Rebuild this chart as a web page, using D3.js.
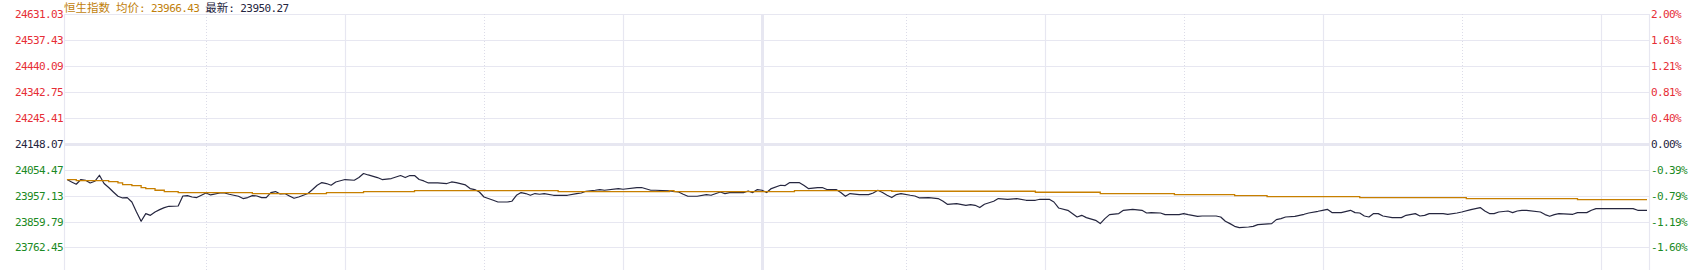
<!DOCTYPE html>
<html><head><meta charset="utf-8">
<script src="https://cdn.jsdelivr.net/npm/d3@7"></script>
<style>
html,body{margin:0;padding:0;background:#fff;}
svg{display:block;}
</style></head><body>
<svg id="chart" width="1694" height="270"></svg>
<script>
// ---------- data ----------
const indexName = "恒生指数";
const avgLabel = "均价";
const lastLabel = "最新";
const avgShown = "23966.43";
const lastShown = "23950.27";
const baseClose = 24148.07;
const pctLevels = [2, 1.6, 1.2, 0.8, 0.4, 0, -0.4, -0.8, -1.2, -1.6, -2];
const leftLabels = ["24631.03","24537.43","24440.09","24342.75","24245.41","24148.07","24054.47","23957.13","23859.79","23762.45"];
const rightLabels = ["2.00%","1.61%","1.21%","0.81%","0.40%","0.00%","-0.39%","-0.79%","-1.19%","-1.60%"];
const gridTimes = ["10:00","10:30","11:00","11:30","12:00","13:30","14:00","14:30","15:00","15:30","16:00"];
const sessionEnd = "16:10";
// [minute index, price]
const priceSeries = [[0,24014.6],[1,24005.6],[2,23997.1],[3,24014.6],[4,24012.0],[5,24001.9],[6,24008.2],[7,24030.6],[8,23999.7],[9,23984.8],[10,23968.3],[11,23952.3],[12,23946.0],[13,23947.5],[14,23931.0],[15,23893.8],[16,23859.1],[17,23887.8],[18,23881.4],[19,23893.8],[20,23902.7],[21,23910.2],[22,23915.0],[24,23916.1],[25,23953.4],[26,23954.9],[27,23949.7],[28,23947.5],[29,23956.0],[30,23964.6],[31,23957.2],[33,23964.6],[34,23964.6],[35,23959.8],[37,23952.3],[38,23943.7],[39,23947.5],[40,23954.9],[41,23953.4],[42,23947.5],[43,23947.5],[44,23966.1],[45,23969.8],[46,23960.9],[47,23962.4],[48,23953.4],[49,23944.8],[50,23949.7],[51,23956.0],[52,23962.4],[53,23977.3],[54,23993.3],[55,24003.4],[56,23999.7],[57,23993.3],[58,24005.6],[60,24014.6],[62,24012.0],[63,24022.0],[64,24037.0],[65,24031.7],[67,24022.0],[68,24014.6],[70,24018.3],[72,24029.5],[73,24022.0],[74,24029.5],[75,24029.5],[76,24014.6],[77,24009.4],[78,24001.9],[80,24001.9],[82,23999.7],[83,24005.6],[84,24003.4],[86,23994.5],[87,23981.0],[88,23977.3],[89,23968.3],[90,23949.7],[92,23937.4],[93,23931.0],[95,23931.0],[96,23933.7],[97,23956.0],[98,23966.1],[99,23962.4],[100,23956.0],[101,23962.4],[102,23959.8],[103,23962.4],[105,23956.0],[108,23956.0],[110,23962.4],[111,23964.6],[112,23971.0],[114,23974.7],[115,23977.3],[116,23974.7],[119,23981.0],[120,23978.4],[123,23984.8],[124,23984.8],[126,23974.7],[127,23974.7],[130,23972.1],[132,23968.3],[133,23959.8],[134,23952.3],[136,23952.3],[138,23958.6],[139,23956.0],[141,23968.3],[142,23962.4],[143,23966.1],[146,23966.1],[147,23972.1],[148,23966.1],[149,23977.3],[150,23974.7],[151,23966.1],[152,23981.0],[154,23993.3],[155,23992.2],[156,24003.4],[158,24003.4],[159,23993.3],[160,23981.0],[162,23984.8],[163,23984.8],[164,23977.3],[166,23977.3],[167,23966.1],[168,23952.3],[169,23962.4],[171,23958.6],[173,23958.6],[174,23964.6],[175,23974.7],[176,23966.1],[177,23956.0],[178,23947.5],[179,23958.6],[180,23962.4],[182,23956.0],[183,23953.4],[184,23946.0],[186,23947.5],[188,23943.7],[189,23934.8],[190,23922.5],[192,23925.1],[194,23918.7],[195,23921.4],[196,23918.7],[197,23910.2],[198,23922.5],[200,23933.7],[201,23943.7],[203,23941.1],[205,23943.7],[207,23937.4],[209,23937.4],[210,23941.1],[212,23941.1],[213,23931.0],[214,23908.7],[216,23900.1],[218,23875.1],[219,23881.4],[220,23872.9],[222,23862.8],[223,23850.5],[224,23869.1],[225,23884.1],[227,23887.8],[228,23900.1],[230,23903.8],[232,23900.1],[233,23890.0],[234,23891.5],[236,23890.0],[237,23884.1],[240,23884.1],[241,23887.8],[242,23884.1],[244,23877.7],[245,23878.8],[248,23878.8],[249,23875.1],[250,23859.1],[251,23850.5],[252,23840.4],[253,23835.6],[255,23837.8],[256,23840.4],[257,23846.8],[260,23850.5],[261,23865.4],[262,23869.1],[263,23875.1],[265,23877.7],[267,23885.2],[268,23890.0],[270,23896.4],[271,23900.1],[272,23903.8],[273,23891.5],[275,23891.5],[277,23900.1],[278,23891.5],[279,23890.0],[280,23878.8],[281,23875.1],[282,23887.8],[283,23887.8],[284,23878.8],[286,23872.9],[288,23872.9],[289,23881.4],[291,23887.8],[292,23878.8],[293,23881.4],[294,23887.8],[297,23887.8],[298,23885.2],[300,23890.0],[301,23893.8],[303,23902.7],[305,23910.2],[306,23897.5],[307,23887.8],[308,23887.8],[309,23893.8],[311,23897.5],[312,23891.5],[313,23897.5],[314,23900.1],[315,23900.1],[318,23893.8],[319,23884.1],[320,23877.7],[321,23884.1],[322,23887.8],[325,23885.2],[326,23891.5],[328,23891.5],[329,23900.1],[330,23906.4],[338,23906.4],[339,23900.1],[341,23900.1]];
// [minute index, average price] (value holds until next entry)
const avgSeries = [[0,24014.6],[2,24010.9],[9,24007.1],[11,24001.9],[12,23995.9],[14,23992.2],[16,23984.8],[17,23981.0],[19,23974.7],[21,23969.8],[24,23966.1],[40,23962.4],[56,23966.1],[64,23969.8],[75,23973.6],[106,23969.8],[130,23973.6],[131,23969.8],[157,23973.6],[178,23971.0],[209,23967.2],[223,23962.4],[239,23958.6],[252,23954.9],[259,23951.2],[279,23947.5],[302,23943.7],[326,23940.0],[341,23940.0]];

// ---------- helpers ----------
function timeToIndex(t){
  const [h,m] = t.split(":").map(Number);
  const mins = h*60+m;
  if (mins <= 720) return mins - 570;        // 9:30 .. 12:00
  return mins - 780 + 151;                    // 13:00 ..
}

// ---------- colours & fonts ----------
const RED = "#e62e36", GREEN = "#1b8a24", DARK = "#252540";
const ORANGE_TXT = "#c17f0c", ORANGE = "#c77f00", PRICE = "#25263f";
const GRID = "#e7e7f1";
const MONO = "'DejaVu Sans Mono', 'Liberation Mono', monospace";
const CJK = "'Noto Sans CJK SC', sans-serif";

const svg = d3.select("#chart");
const L = 64.5, R = 1649.5, T = 14, H = 270;

const x = d3.scaleLinear().domain([0, timeToIndex(sessionEnd)]).range([67, 1647]);
const y = d3.scaleLinear().domain([baseClose*0.98, baseClose*1.02]).range([273.4, 14]);
const lvY = p => y(baseClose*(1+p/100));

// horizontal grid
const g = svg.append("g");
pctLevels.forEach(p => {
  const yy = Math.round(lvY(p)) + 0.5;
  g.append("line").attr("x1", L).attr("x2", R).attr("y1", yy).attr("y2", yy)
    .attr("stroke", GRID).attr("stroke-width", p === 0 ? 3 : 1.2);
});

// vertical grid
const midIdx = timeToIndex("12:00");
const lastK = gridTimes.length - 1;
gridTimes.forEach((t, k) => {
  const i = timeToIndex(t);
  const xx = Math.round(x(i)) + 0.5;
  const ln = g.append("line").attr("x1", xx).attr("x2", xx).attr("y1", T).attr("y2", H);
  if (i === midIdx) {
    ln.attr("stroke", GRID).attr("stroke-width", 3);
  } else {
    const solid = i < midIdx ? (k % 2 === 1) : ((lastK - k) % 2 === 0);
    if (solid) ln.attr("stroke", GRID).attr("stroke-width", 1.2);
    else ln.attr("stroke", "#dcdce8").attr("stroke-width", 1).attr("stroke-dasharray", "1,2");
  }
});
// frame sides
[L, R].forEach(xx => g.append("line").attr("x1", xx).attr("x2", xx).attr("y1", T).attr("y2", H)
  .attr("stroke", GRID).attr("stroke-width", 1.2));

// lines
const line = d3.line().x(d => x(d[0])).y(d => y(d[1]));
svg.append("path").datum(priceSeries).attr("d", line)
  .attr("fill", "none").attr("stroke", PRICE).attr("stroke-width", 1.2).attr("stroke-linejoin", "round");
const stepLine = d3.line().x(d => x(d[0])).y(d => y(d[1])).curve(d3.curveStepAfter);
svg.append("path").datum(avgSeries).attr("d", stepLine)
  .attr("fill", "none").attr("stroke", ORANGE).attr("stroke-width", 1.3);

// axes
const colorFor = p => p > 0 ? RED : (p < 0 ? GREEN : DARK);
const levels = pctLevels.slice(0, leftLabels.length);
const axL = d3.axisLeft(y).tickValues(levels.map(p => baseClose*(1+p/100)))
  .tickFormat((d, i) => leftLabels[i]).tickSize(0).tickPadding(0);
const gl = svg.append("g").attr("transform", "translate(62.5,0)").call(axL);
gl.select(".domain").remove();
gl.selectAll("text").attr("font-family", MONO).attr("font-size", 11).attr("letter-spacing", "-0.6px")
  .attr("fill", (d, i) => colorFor(levels[i])).attr("dx", "0.6px");

const axR = d3.axisRight(y).tickValues(levels.map(p => baseClose*(1+p/100)))
  .tickFormat((d, i) => rightLabels[i]).tickSize(0).tickPadding(0);
const gr = svg.append("g").attr("transform", "translate(1651,0)").call(axR);
gr.select(".domain").remove();
gr.selectAll("text").attr("font-family", MONO).attr("font-size", 11).attr("letter-spacing", "-0.6px")
  .attr("fill", (d, i) => colorFor(levels[i]));

// title
const title = svg.append("text").attr("x", 64).attr("y", 12);
const parts = [
  [indexName, CJK, 11.5, ORANGE_TXT],
  [" ", MONO, 11, ORANGE_TXT],
  [avgLabel, CJK, 11.5, ORANGE_TXT],
  [": " + avgShown, MONO, 11, ORANGE_TXT],
  [" ", MONO, 11, DARK],
  [lastLabel, CJK, 11.5, DARK],
  [": " + lastShown, MONO, 11, DARK]
];
parts.forEach(([t, f, s, c]) => {
  const ts = title.append("tspan").text(t).attr("font-family", f).attr("font-size", s).attr("fill", c)
    .attr("xml:space", "preserve").style("white-space", "pre");
  if (f === MONO) ts.attr("letter-spacing", "-0.6px");
});
</script>
</body></html>
